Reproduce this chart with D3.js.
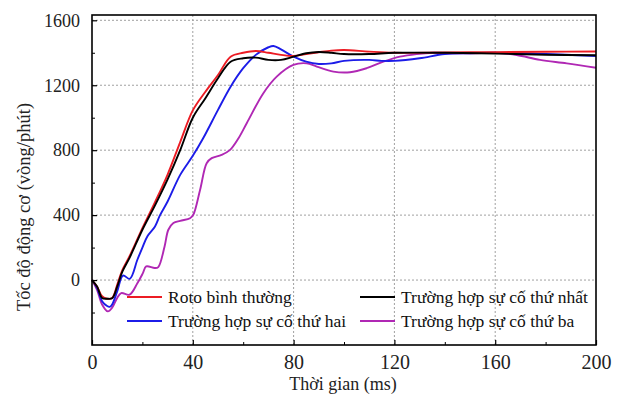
<!DOCTYPE html>
<html><head><meta charset="utf-8">
<script src="https://cdn.jsdelivr.net/npm/d3@7"></script>
<style>body{margin:0;background:#fff;}svg{display:block;} text{font-family:"Liberation Serif","Times New Roman","DejaVu Serif",serif;}</style>
</head><body>
<svg id="c" width="621" height="394"></svg>
<script>
const xTicks = [0, 40, 80, 120, 160, 200];
const yTicks = [0, 400, 800, 1200, 1600];
const xMinor = [20, 60, 100, 140, 180];
const yMinor = [-200, 200, 600, 1000, 1400];
const seriesNames = ["Roto bình thường", "Trường hợp sự cố thứ nhất", "Trường hợp sự cố thứ hai", "Trường hợp sự cố thứ ba"];
const seriesColors = ["#ec1c24", "#000000", "#1c1ce8", "#b028b4"];

const tRed = [0,2,4,6,8,10,12,15,20,25,30,35,40,45,50,55,60,65,70,75,80,85,90,95,100,110,120,140,160,180,200];
const vRed = [0,-40,-100,-115,-110,-30,60,150,320,480,650,850,1045,1160,1263,1376,1400,1411,1400,1387,1380,1392,1403,1413,1417,1407,1400,1402,1404,1406,1408];

const tBlack = [0,2,4,6,8,10,12,15,20,25,30,35,40,45,50,55,60,65,70,75,80,85,90,95,100,110,120,140,160,180,200];
const vBlack = [0,-40,-110,-115,-112,-40,50,140,310,460,620,800,1000,1120,1243,1345,1366,1370,1356,1356,1376,1397,1405,1400,1392,1392,1400,1400,1395,1388,1385];

const tBlue = [0,2,4,6,7,8,10,12.3,15,18,20,22,25,27,30,35,40,44,50,55,60,65,70,72,75,80,85,90,95,100,110,115,120,130,140,150,160,180,200];
const vBlue = [0,-50,-130,-160,-165,-150,-70,28,8,125,200,270,330,400,484,648,765,870,1048,1191,1305,1387,1434,1442,1421,1376,1345,1331,1335,1350,1356,1350,1350,1366,1392,1397,1400,1392,1380];

const tMag = [0,2,4,6.3,8,10,11.6,14.9,18,20.2,21.5,24.9,26.3,28.8,30.3,32.3,35,38.9,40.2,42.9,45.5,47.5,51.4,54.8,58,61.4,68,73.3,79.9,85.2,89.2,95.8,102.4,109,115.6,122.2,128.8,135.4,142,151,160,168.5,177.8,188.4,200];
const vMag = [0,-60,-150,-193,-170,-110,-80,-90,-20,43,84,74,80,207,310,351,365,381,402,556,720,751,771,802,870,966,1151,1253,1325,1335,1315,1284,1280,1305,1345,1376,1392,1400,1397,1397,1400,1386,1356,1335,1308];

const svg = d3.select("#c");
const L = 92, R = 596, T = 15, B = 345;
const x = d3.scaleLinear().domain([0, 200]).range([L, R]);
const y = d3.scaleLinear().domain([-400, 1600]).range([B, 20.3]);

// grid
const g = svg.append("g");
g.selectAll("line.gx").data(xTicks.filter(d => d > 0 && d < 200)).enter().append("line")
  .attr("x1", d => x(d)).attr("x2", d => x(d)).attr("y1", T).attr("y2", B)
  .attr("stroke", "#a0a0a0").attr("stroke-width", 1).attr("stroke-dasharray", "2,2");
g.selectAll("line.gy").data(yTicks).enter().append("line")
  .attr("x1", L).attr("x2", R).attr("y1", d => y(d)).attr("y2", d => y(d))
  .attr("stroke", "#a0a0a0").attr("stroke-width", 1).attr("stroke-dasharray", "2,2");

// series
const series = [[tRed, vRed], [tBlack, vBlack], [tBlue, vBlue], [tMag, vMag]];
const line = d3.line().x(d => x(d[0])).y(d => y(d[1])).curve(d3.curveCatmullRom.alpha(0.5));
const order = [3, 2, 0, 1];
order.forEach(i => {
  const [ts, vs] = series[i];
  svg.append("path").datum(ts.map((t, k) => [t, vs[k]]))
    .attr("d", line).attr("fill", "none").attr("stroke", seriesColors[i]).attr("stroke-width", 1.9)
    .attr("stroke-linejoin", "round");
});

// axes
const xAxis = d3.axisBottom(x).tickValues(xTicks).tickSize(-5).tickPadding(10).tickFormat(d3.format("d"));
const gx = svg.append("g").attr("transform", `translate(0,${B})`).call(xAxis);
gx.attr("font-family", null);
gx.selectAll("text").attr("font-size", 20).attr("fill", "#222");
gx.selectAll("line").attr("stroke", "#000").attr("stroke-width", 1.2);
gx.select(".domain").remove();
svg.append("g").attr("transform", `translate(0,${B})`).call(d3.axisBottom(x).tickValues(xMinor).tickSize(-3).tickFormat(""))
  .call(s => s.select(".domain").remove()).selectAll("line").attr("stroke", "#000");

const yAxis = d3.axisLeft(y).tickValues(yTicks).tickSize(-5).tickPadding(12).tickFormat(d3.format("d"));
const gy = svg.append("g").attr("transform", `translate(${L},0)`).call(yAxis);
gy.attr("font-family", null);
gy.selectAll("text").attr("font-size", 18).attr("fill", "#222");
gy.selectAll("line").attr("stroke", "#000").attr("stroke-width", 1.2);
gy.select(".domain").remove();
svg.append("g").attr("transform", `translate(${L},0)`).call(d3.axisLeft(y).tickValues(yMinor).tickSize(-3).tickFormat(""))
  .call(s => s.select(".domain").remove()).selectAll("line").attr("stroke", "#000");

// frame
svg.append("rect").attr("x", L).attr("y", T).attr("width", R - L).attr("height", B - T)
  .attr("fill", "none").attr("stroke", "#000").attr("stroke-width", 1.6);

// titles
svg.append("text").attr("x", 343).attr("y", 390).attr("text-anchor", "middle")
  .attr("font-size", 18).attr("fill", "#222").text("Thời gian (ms)");
svg.append("text").attr("transform", `translate(30,207) rotate(-90)`).attr("text-anchor", "middle")
  .attr("font-size", 18.5).attr("fill", "#222").text("Tốc độ động cơ (vòng/phút)");

// legend
const legPos = [[127, 297], [360, 297], [127, 321], [360, 321]];
seriesNames.forEach((n, i) => {
  const [lx, ly] = legPos[i];
  svg.append("line").attr("x1", lx).attr("x2", lx + 35).attr("y1", ly).attr("y2", ly)
    .attr("stroke", seriesColors[i]).attr("stroke-width", 2);
  svg.append("text").attr("x", lx + 41).attr("y", ly + 6)
    .attr("font-size", 17.5).attr("fill", "#111").text(n);
});
</script>
</body></html>
